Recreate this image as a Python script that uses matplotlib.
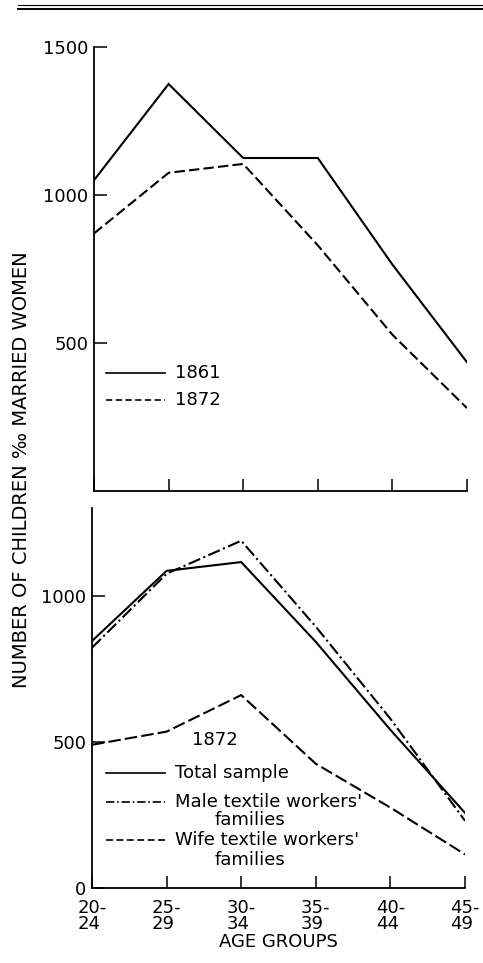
import numpy as np
import matplotlib
matplotlib.use('Agg')
from matplotlib import pyplot as plt
from matplotlib.lines import Line2D

plt.rcParams['font.family'] = ['DejaVu Sans']
plt.rcParams['lines.scale_dashes'] = False

# Data -----------------------------------------------------------------------
age_groups = ['20-\n24', '25-\n29', '30-\n34', '35-\n39', '40-\n44', '45-\n49']

# top panel: whole sample, 1861 vs 1872
top_1861 = [1050, 1375, 1125, 1125, 765, 435]
top_1872 = [870, 1075, 1105, 830, 528, 280]

# bottom panel: 1872 by family type
total_sample = [845, 1085, 1115, 842, 541, 257]
male_textile = [822, 1075, 1188, 894, 579, 230]
wife_textile = [490, 535, 660, 425, 275, 115]

top_yticks = [500, 1000, 1500]
bottom_yticks = [0, 500, 1000]

W, H = 483, 963
LW = 1.5
FS = 13

fig = plt.figure(figsize=(W / 100, H / 100), dpi=100)

ax1 = fig.add_axes([94 / W, 1 - 491 / H, 373 / W, 444 / H])
ax2 = fig.add_axes([92 / W, 1 - 888 / H, 373 / W, 380 / H])

x = np.arange(len(age_groups))

# Top panel ------------------------------------------------------------------
ax1.plot(x, top_1861, color='black', lw=LW, solid_joinstyle='miter')
ax1.plot(x, top_1872, color='black', lw=LW, linestyle=(0, (7.5, 3)))

ax1.set_xlim(0, 5)
ax1.set_ylim(0, 1500)
ax1.set_xticks(x)
ax1.set_xticklabels([])
ax1.set_yticks(top_yticks)
ax1.set_yticklabels([str(v) for v in top_yticks])

# hand drawn legend
ax1.add_line(Line2D([0.032, 0.19], [0.266, 0.266], transform=ax1.transAxes,
                    color='black', lw=1.2))
ax1.add_line(Line2D([0.032, 0.19], [0.205, 0.205], transform=ax1.transAxes,
                    color='black', lw=1.2, linestyle=(0, (4.5, 2.5))))
ax1.text(0.217, 0.266, '1861', transform=ax1.transAxes, va='center', ha='left', fontsize=FS)
ax1.text(0.217, 0.205, '1872', transform=ax1.transAxes, va='center', ha='left', fontsize=FS)

# Bottom panel ---------------------------------------------------------------
ax2.plot(x, total_sample, color='black', lw=LW)
ax2.plot(x, male_textile, color='black', lw=LW, linestyle=(0, (9, 2.5, 1.5, 2.5)))
ax2.plot(x, wife_textile, color='black', lw=LW, linestyle=(0, (9, 3)))

ax2.set_xlim(0, 5)
ax2.set_ylim(0, 1300)
ax2.set_xticks(x)
ax2.set_xticklabels(age_groups, multialignment='left', linespacing=0.85)
ax2.set_yticks(bottom_yticks)
ax2.set_yticklabels([str(v) for v in bottom_yticks])
ax2.set_xlabel('AGE GROUPS', fontsize=FS, labelpad=0)

ax2.text(0.33, 0.389, '1872', transform=ax2.transAxes, va='center', ha='center', fontsize=FS)

legend_rows = [
    (0.303, '-', 'Total sample', None),
    (0.226, (0, (6, 2, 1.2, 2)), "Male textile workers'", 0.179),
    (0.126, (0, (5, 2.5)), "Wife textile workers'", 0.074),
]
for y_pos, style, label, second_y in legend_rows:
    ax2.add_line(Line2D([0.0375, 0.196], [y_pos, y_pos], transform=ax2.transAxes,
                        color='black', lw=1.2, linestyle=style))
    ax2.text(0.222, y_pos, label, transform=ax2.transAxes, va='center', ha='left', fontsize=FS)
    if second_y is not None:
        ax2.text(0.424, second_y, 'families', transform=ax2.transAxes,
                 va='center', ha='center', fontsize=FS)

# Common axis styling --------------------------------------------------------
for ax in (ax1, ax2):
    ax.spines['top'].set_visible(False)
    ax.spines['right'].set_visible(False)
    ax.spines['left'].set_linewidth(1.3)
    ax.spines['bottom'].set_linewidth(1.3)
    ax.tick_params(direction='in', length=9, width=1.1, labelsize=FS, pad=4)
ax2.tick_params(axis='x', pad=8)

fig.text(22 / W, 1 - 470 / H, 'NUMBER OF CHILDREN \u2030 MARRIED WOMEN',
         rotation=90, va='center', ha='center', fontsize=14)

# scanned page rule at the top
fig.add_artist(Line2D([18 / W, 1], [1 - 5 / H, 1 - 5 / H], color='black', lw=0.8))
fig.add_artist(Line2D([18 / W, 1], [1 - 9 / H, 1 - 9 / H], color='black', lw=1.4))

plt.savefig('out.png', dpi=100)
